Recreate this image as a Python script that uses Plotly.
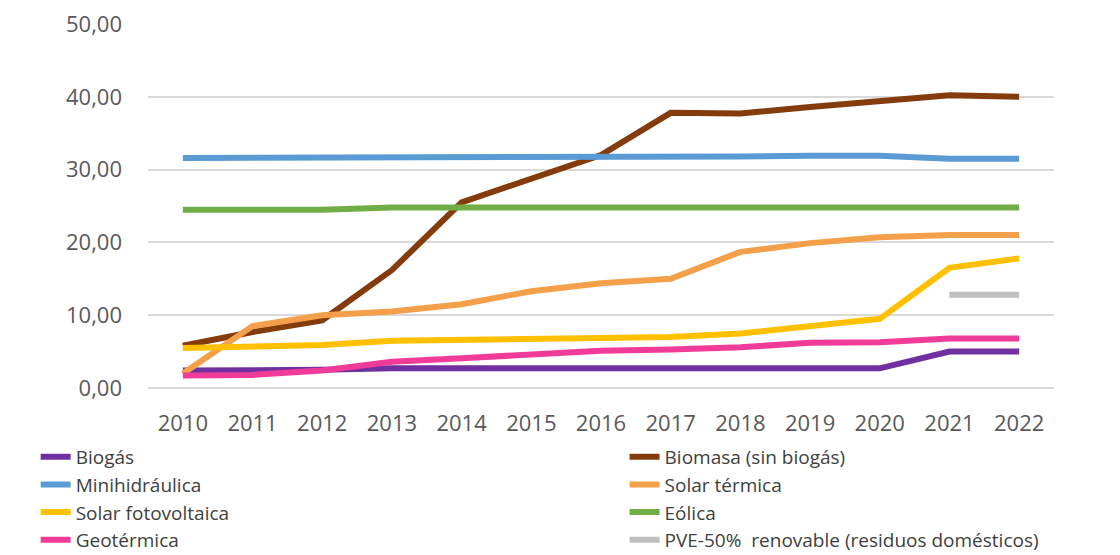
import plotly.graph_objects as go

years = [str(y) for y in range(2010, 2023)]

biogas = [2.4, 2.4, 2.5, 2.7, 2.7, 2.7, 2.7, 2.7, 2.7, 2.7, 2.7, 5.0, 5.0]
biomasa = [5.8, 7.7, 9.3, 16.2, 25.5, 28.7, 32.0, 37.8, 37.7, 38.6, 39.3, 40.2, 40.0]
minihidraulica = [31.6, 31.6, 31.6, 31.8, 31.8, 31.8, 31.8, 31.8, 31.8, 31.9, 31.9, 31.5, 31.5]
solar_termica = [2.0, 8.5, 10.0, 10.5, 11.5, 13.3, 14.4, 15.0, 18.7, 19.9, 20.7, 21.0, 21.0]
solar_fv = [5.5, 5.8, 5.9, 6.5, 6.6, 6.7, 6.9, 7.0, 7.5, 8.5, 9.5, 16.5, 17.8]
eolica = [24.5, 24.5, 24.5, 24.8, 24.8, 24.8, 24.8, 24.8, 24.8, 24.8, 24.8, 24.8, 24.8]
geotermica = [1.7, 1.8, 2.4, 3.6, 4.1, 4.6, 5.1, 5.3, 5.6, 6.2, 6.3, 6.8, 6.8]
pve = [None] * 11 + [12.8, 12.8]

series = [
    ("Biogás", biogas, "#7030A0", "legend"),
    ("Biomasa (sin biogás)", biomasa, "#843C0C", "legend2"),
    ("Minihidráulica", minihidraulica, "#5B9BD5", "legend"),
    ("Solar térmica", solar_termica, "#F4A04A", "legend2"),
    ("Solar fotovoltaica", solar_fv, "#FFC000", "legend"),
    ("Eólica", eolica, "#70AD47", "legend2"),
    ("Geotérmica", geotermica, "#F03B98", "legend"),
    ("PVE-50%  renovable (residuos domésticos)", pve, "#BFBFBF", "legend2"),
]

fig = go.Figure()
for name, vals, color, leg in series:
    fig.add_trace(go.Scatter(
        x=years, y=vals, name=name, mode="lines",
        line=dict(color=color, width=6),
        connectgaps=False, legend=leg,
    ))

font = "Open Sans"
legfont = dict(family=font, size=19, color="#404040")
fig.update_layout(
    width=1120, height=555,
    margin=dict(l=148, r=66, t=24, b=167, autoexpand=False),
    paper_bgcolor="white", plot_bgcolor="white",
    separators=",.",
    font=dict(family=font, size=20, color="#595959"),
    showlegend=True,
    legend=dict(
        orientation="v", x=-0.124, xanchor="left", y=-0.137, yanchor="top",
        font=legfont, traceorder="normal", tracegroupgap=0,
        bgcolor="rgba(0,0,0,0)",
    ),
    legend2=dict(
        orientation="v", x=0.526, xanchor="left", y=-0.137, yanchor="top",
        font=legfont, traceorder="normal", tracegroupgap=0,
        bgcolor="rgba(0,0,0,0)",
    ),
    xaxis=dict(
        type="category", range=[-0.5, 12.5],
        showgrid=False, showline=False, zeroline=False,
        ticks="", ticklabelstandoff=20,
        tickfont=dict(family=font, size=22, color="#595959"),
    ),
    yaxis=dict(
        range=[0, 50], dtick=10, tickformat=".2f",
        showgrid=True, gridcolor="#D9D9D9", gridwidth=1.5,
        zeroline=True, zerolinecolor="#D9D9D9", zerolinewidth=1.5,
        showline=False, ticks="", ticklabelstandoff=25,
        tickfont=dict(family=font, size=22, color="#595959"),
    ),
)

fig.write_html("out.html")
